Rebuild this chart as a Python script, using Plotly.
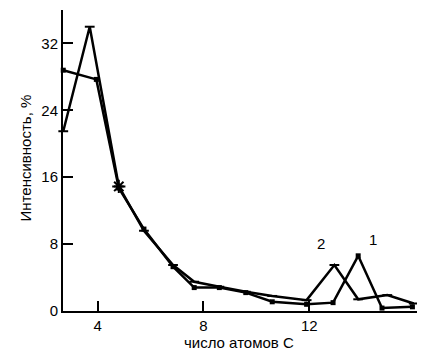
import plotly.graph_objects as go

# Series
x_s1 = [2.7, 3.95, 4.8, 5.75, 6.85, 7.65, 8.6, 9.6, 10.6, 11.9, 12.9, 13.85, 14.75, 15.9]
y_s1 = [28.8, 27.7, 14.7, 9.8, 5.3, 2.8, 2.8, 2.2, 1.1, 0.8, 1.0, 6.6, 0.35, 0.5]

x_s2 = [2.7, 3.7, 4.8, 5.75, 6.85, 7.65, 8.6, 9.6, 10.6, 11.9, 12.95, 13.85, 14.95, 15.95]
y_s2 = [21.5, 34.0, 14.9, 9.6, 5.5, 3.5, 2.9, 2.3, 1.8, 1.3, 5.5, 1.4, 1.9, 0.9]

labels = ["1", "2"]
label_x = [14.4, 12.45]
label_y = [8.5, 8.1]

y_ticks = [0, 8, 16, 24, 32]
x_ticks = [4, 8, 12]

x_title = "число атомов С"
y_title = "Интенсивность, %"

font = "Liberation Sans, Arial, sans-serif"

fig = go.Figure()
fig.add_trace(go.Scatter(
    x=x_s1, y=y_s1, mode="lines+markers", name="1",
    line=dict(color="black", width=2.5),
    marker=dict(symbol="square", size=5, color="black"),
    cliponaxis=False,
))
fig.add_trace(go.Scatter(
    x=x_s2, y=y_s2, mode="lines+markers", name="2",
    line=dict(color="black", width=2.5),
    marker=dict(symbol="line-ew", size=7, line=dict(color="black", width=2)),
    cliponaxis=False,
))
# asterisk where curves meet
fig.add_trace(go.Scatter(
    x=[x_s2[2]], y=[y_s2[2]], mode="markers",
    marker=dict(symbol="asterisk", size=11, line=dict(color="black", width=2)),
    showlegend=False,
))

for t, lx, ly in zip(labels, label_x, label_y):
    fig.add_annotation(x=lx, y=ly, text=t, showarrow=False,
                       font=dict(family=font, size=15, color="black"))

fig.add_annotation(xref="paper", yref="paper", x=0.49, y=-0.07,
                   xanchor="center", yanchor="top", text=x_title, showarrow=False,
                   font=dict(family=font, size=15, color="black"))
fig.add_annotation(xref="paper", yref="paper", x=-0.103, y=0.51,
                   xanchor="center", yanchor="middle", text=y_title, showarrow=False,
                   textangle=-90,
                   font=dict(family=font, size=15, color="black"))

fig.update_layout(
    width=417, height=344,
    margin=dict(l=55, r=2, t=2, b=41, autoexpand=False),
    paper_bgcolor="white", plot_bgcolor="white",
    showlegend=False,
    font=dict(family=font, size=15, color="black"),
)
fig.update_xaxes(
    range=[2.69, 16.3], tickvals=x_ticks, ticks="inside", ticklen=10,
    tickwidth=1.5, tickcolor="black", automargin=False,
    showline=True, linecolor="black", linewidth=2, showgrid=False, zeroline=False,
)
fig.update_yaxes(
    range=[0, 36], tickvals=y_ticks, ticks="inside", ticklen=10,
    tickwidth=1.5, tickcolor="black", automargin=False,
    showline=True, linecolor="black", linewidth=2, showgrid=False, zeroline=False,
)

fig.write_html("out.html")
